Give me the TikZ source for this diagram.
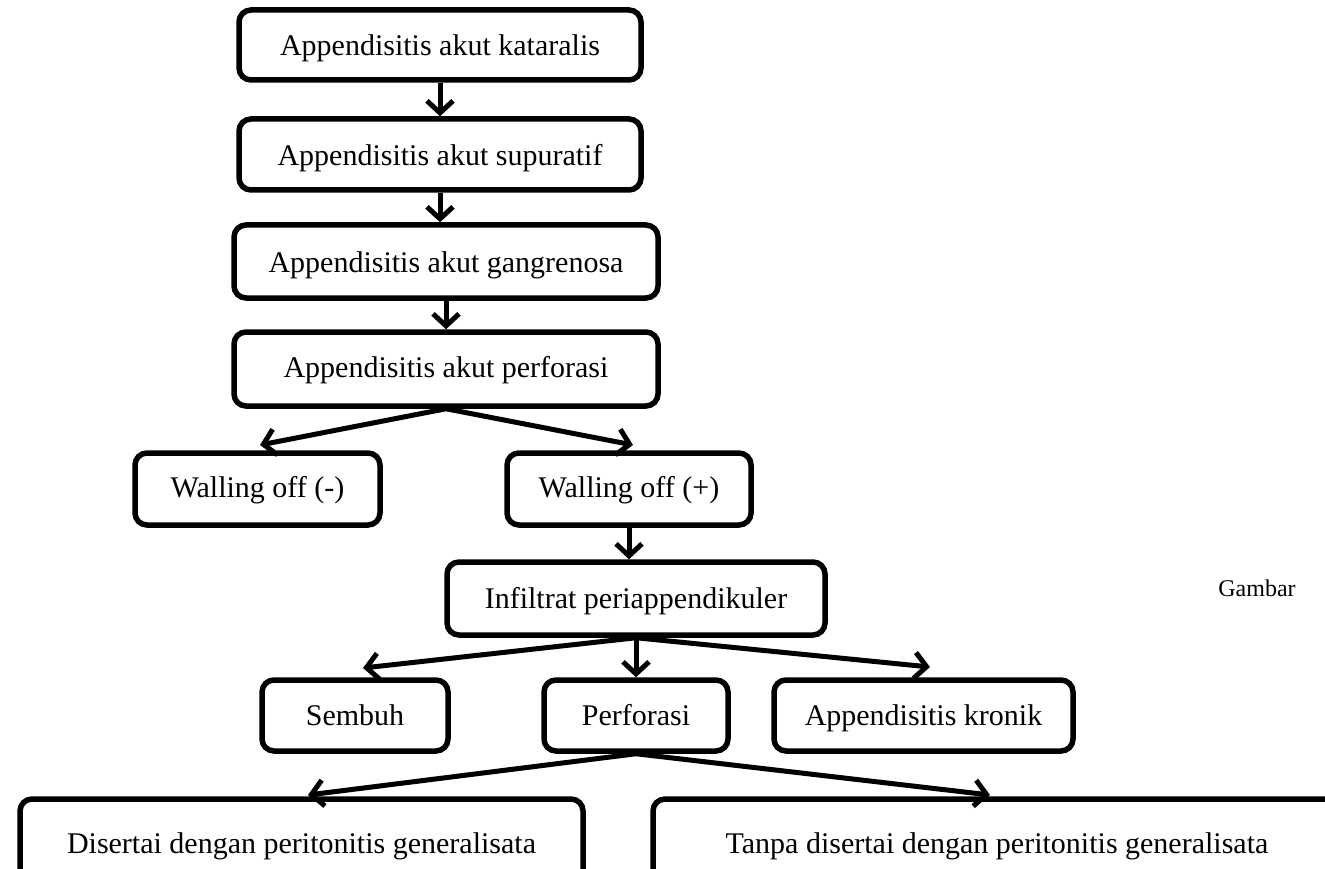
\documentclass[tikz,border=0pt]{standalone}
\usepackage{fontspec}
\setmainfont{Liberation Serif}
\usetikzlibrary{arrows.meta,calc}
\begin{document}
\begin{tikzpicture}[x=1pt,y=-1pt,
  box/.style={draw=black, line width=5.5pt, rounded corners=12pt, inner sep=0pt,
    font=\fontsize{30}{36}\selectfont, align=center},
  tb/.style 2 args={text height=#1, text depth=#2},
  arr/.style={line width=5pt, -{Straight Barb[length=12pt,width=26pt]}, line join=round}]
\useasboundingbox (0,0) rectangle (1325,869);
\clip (0,0) rectangle (1325,869);
\node[box, minimum width=402pt, minimum height=70pt, tb={22pt}{0pt}] (k1) at (440,45) {Appendisitis akut kataralis};
\node[box, minimum width=402pt, minimum height=71pt, tb={23pt}{0pt}] (k2) at (440,154.5) {Appendisitis akut supuratif};
\node[box, minimum width=424pt, minimum height=73pt, tb={21pt}{0pt}] (k3) at (446,261.5) {Appendisitis akut gangrenosa};
\node[box, minimum width=424pt, minimum height=74pt, tb={16pt}{0pt}] (k4) at (446,369) {Appendisitis akut perforasi};
\node[box, minimum width=245pt, minimum height=72pt, tb={16pt}{0pt}] (wm) at (257.5,489) {Walling off (-)};
\node[box, minimum width=244pt, minimum height=72pt, tb={16pt}{0pt}] (wp) at (629,489) {Walling off (+)};
\node[box, minimum width=378pt, minimum height=73pt, tb={19pt}{0pt}] (inf) at (636,598.5) {Infiltrat periappendikuler};
\node[box, minimum width=186pt, minimum height=71pt, tb={19pt}{0pt}] (sem) at (355,715.5) {Sembuh};
\node[box, minimum width=184pt, minimum height=71pt, tb={19pt}{0pt}] (per) at (636,715.5) {Perforasi};
\node[box, minimum width=299pt, minimum height=71pt, tb={20pt}{0pt}] (kro) at (923.5,715.5) {Appendisitis kronik};
\node[box, minimum width=563pt, minimum height=101pt, tb={7pt}{0pt}] (dis) at (301.5,849.5) {Disertai dengan peritonitis generalisata};
\node[box, minimum width=688pt, minimum height=101pt, tb={7pt}{0pt}] (tan) at (997,849.5) {Tanpa disertai dengan peritonitis generalisata};
\node[font=\fontsize{24}{28}\selectfont, anchor=base, inner sep=0pt] (gb) at (1257,596) {Gambar};
\coordinate (t1) at (260,445);
\coordinate (t2) at (633,445);
\coordinate (t3) at (363,668);
\coordinate (t4) at (930,667);
\coordinate (t5) at (308,795);
\coordinate (t6) at (990,795);
\draw[arr] (k1.south) -- (k2.north);
\draw[arr] (k2.south) -- (k2.south |- k3.north);
\draw[arr] (k3.south) -- (k4.north);
\draw[arr] (k4.south) -- (t1);
\draw[arr] (k4.south) -- (t2);
\draw[arr] (wp.south) -- (wp.south |- inf.north);
\draw[arr] (inf.south) -- (t3);
\draw[arr] (inf.south) -- (per.north);
\draw[arr] (inf.south) -- (t4);
\draw[arr] (per.south) -- (t5);
\draw[arr] (per.south) -- (t6);
\end{tikzpicture}
\end{document}
